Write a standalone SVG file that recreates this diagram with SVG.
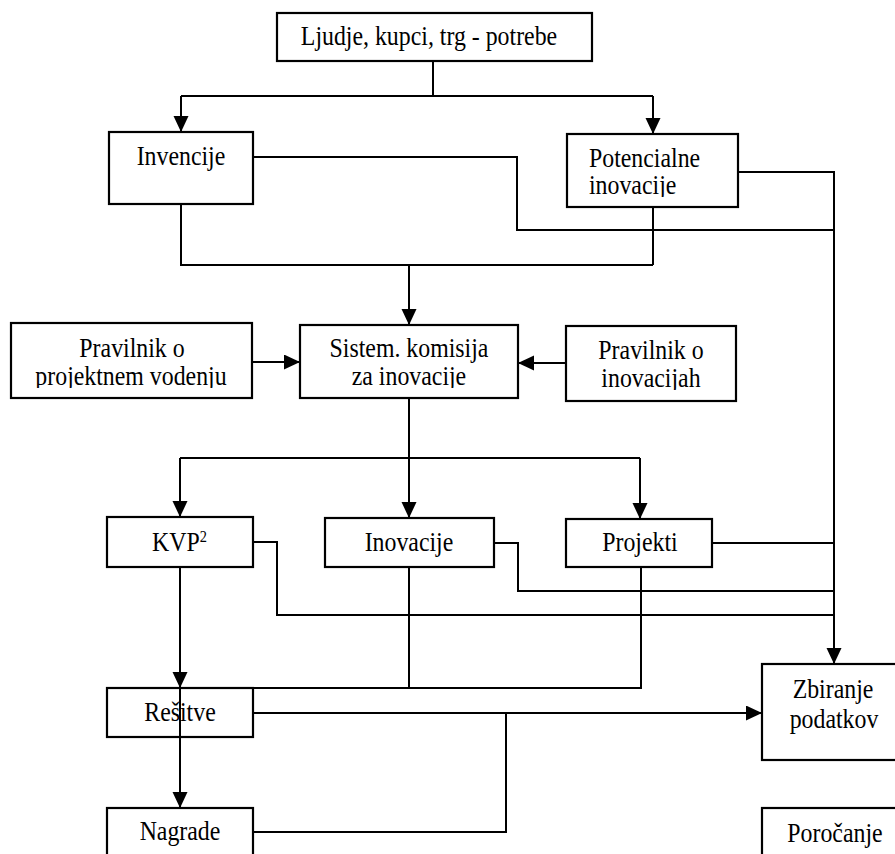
<svg xmlns="http://www.w3.org/2000/svg" width="895" height="854" viewBox="0 0 895 854">
<style>
.box{fill:#fff;stroke:#000;stroke-width:2.2}
.t{font-family:"Liberation Serif","Times New Roman",serif;font-size:26.5px;fill:#000}
.m{text-anchor:middle}
.c{fill:none;stroke:#000;stroke-width:2}
</style>
<defs>
<marker id="ah" markerUnits="userSpaceOnUse" markerWidth="16" markerHeight="16" refX="16" refY="7.5" orient="auto">
<path d="M0,0 L16,7.5 L0,15 Z" fill="#000"/>
</marker>
<clipPath id="cpPot"><rect x="560" y="130" width="180" height="67"/></clipPath>
<clipPath id="cpPpv"><rect x="5" y="320" width="250" height="68"/></clipPath>
<clipPath id="cpSis"><rect x="300" y="320" width="220" height="68"/></clipPath>
<clipPath id="cpPin"><rect x="560" y="320" width="180" height="70"/></clipPath>
</defs>
<rect width="895" height="854" fill="#fff"/>

<g id="n-ljudje">
<rect class="box" x="277" y="13" width="315" height="48"/>
<g transform="scale(0.9,1)"><text class="t m" x="476.67" y="45">Ljudje, kupci, trg - potrebe</text></g>
</g>
<g id="n-invencije">
<rect class="box" x="109" y="132" width="144" height="72"/>
<g transform="scale(0.9,1)"><text class="t m" x="201.11" y="165">Invencije</text></g>
</g>
<g id="n-potencialne">
<rect class="box" x="567" y="134" width="171" height="73"/>
<g clip-path="url(#cpPot)"><g transform="scale(0.9,1)">
<text class="t" x="654.44" y="167">Potencialne</text>
<text class="t" x="654.44" y="194">inovacije</text>
</g></g>
</g>
<g id="n-pravilnik-pv">
<rect class="box" x="11" y="323" width="241" height="75"/>
<g clip-path="url(#cpPpv)"><g transform="scale(0.9,1)">
<text class="t m" x="146.67" y="357">Pravilnik o</text>
<text class="t m" x="145.56" y="385">projektnem vodenju</text>
</g></g>
</g>
<g id="n-sistem">
<rect class="box" x="300" y="325" width="218" height="73"/>
<g clip-path="url(#cpSis)"><g transform="scale(0.9,1)">
<text class="t m" x="454.44" y="357">Sistem. komisija</text>
<text class="t m" x="454.44" y="385">za inovacije</text>
</g></g>
</g>
<g id="n-pravilnik-in">
<rect class="box" x="566" y="326" width="170" height="75"/>
<g clip-path="url(#cpPin)"><g transform="scale(0.9,1)">
<text class="t m" x="723.33" y="359">Pravilnik o</text>
<text class="t m" x="723.33" y="387">inovacijah</text>
</g></g>
</g>
<g id="n-kvp">
<rect class="box" x="107" y="517" width="146" height="50"/>
<g transform="scale(0.9,1)"><text class="t" x="168.89" y="551">KVP<tspan font-size="16" dy="-9">2</tspan></text></g>
</g>
<g id="n-inovacije">
<rect class="box" x="325" y="518" width="169" height="49"/>
<g transform="scale(0.9,1)"><text class="t m" x="454.44" y="551">Inovacije</text></g>
</g>
<g id="n-projekti">
<rect class="box" x="566" y="519" width="146" height="48"/>
<g transform="scale(0.9,1)"><text class="t m" x="711.11" y="551">Projekti</text></g>
</g>
<g id="n-resitve">
<rect class="box" x="107" y="688" width="146" height="49"/>
<g transform="scale(0.9,1)"><text class="t m" x="200" y="721">Rešitve</text></g>
</g>
<g id="n-zbiranje">
<rect class="box" x="762" y="664" width="140" height="96"/>
<g transform="scale(0.9,1)">
<text class="t m" x="925.56" y="698">Zbiranje</text>
<text class="t m" x="926.67" y="728">podatkov</text>
</g>
</g>
<g id="n-nagrade">
<rect class="box" x="107" y="808" width="146" height="60"/>
<g transform="scale(0.9,1)"><text class="t m" x="200" y="840">Nagrade</text></g>
</g>
<g id="n-porocanje">
<rect class="box" x="762" y="808" width="140" height="60"/>
<g transform="scale(0.9,1)"><text class="t m" x="927.78" y="842">Poročanje</text></g>
</g>

<g id="connectors">
<path class="c" d="M433,61 V96 M181,96 H653"/>
<path class="c" d="M181,96 V132" marker-end="url(#ah)"/>
<path class="c" d="M653,96 V134" marker-end="url(#ah)"/>
<path class="c" d="M253,157 H517 V230 H834"/>
<path class="c" d="M738,172 H834 V664" marker-end="url(#ah)"/>
<path class="c" d="M181,204 V265 H653 M653,207 V265"/>
<path class="c" d="M409,265 V325" marker-end="url(#ah)"/>
<path class="c" d="M252,362 H300" marker-end="url(#ah)"/>
<path class="c" d="M566,363 H518" marker-end="url(#ah)"/>
<path class="c" d="M409,398 V458 M180,458 H640"/>
<path class="c" d="M180,458 V517" marker-end="url(#ah)"/>
<path class="c" d="M409,458 V518" marker-end="url(#ah)"/>
<path class="c" d="M640,458 V519" marker-end="url(#ah)"/>
<path class="c" d="M253,542 H277 V615 H834"/>
<path class="c" d="M494,543 H518 V591 H834"/>
<path class="c" d="M712,543 H834"/>
<path class="c" d="M180,567 V688" marker-end="url(#ah)"/>
<path class="c" d="M180,688 V808" marker-end="url(#ah)"/>
<path class="c" d="M409,567 V688 M641,567 V688 H253"/>
<path class="c" d="M253,713 H762" marker-end="url(#ah)"/>
<path class="c" d="M253,832 H506 V713"/>
</g>
</svg>
